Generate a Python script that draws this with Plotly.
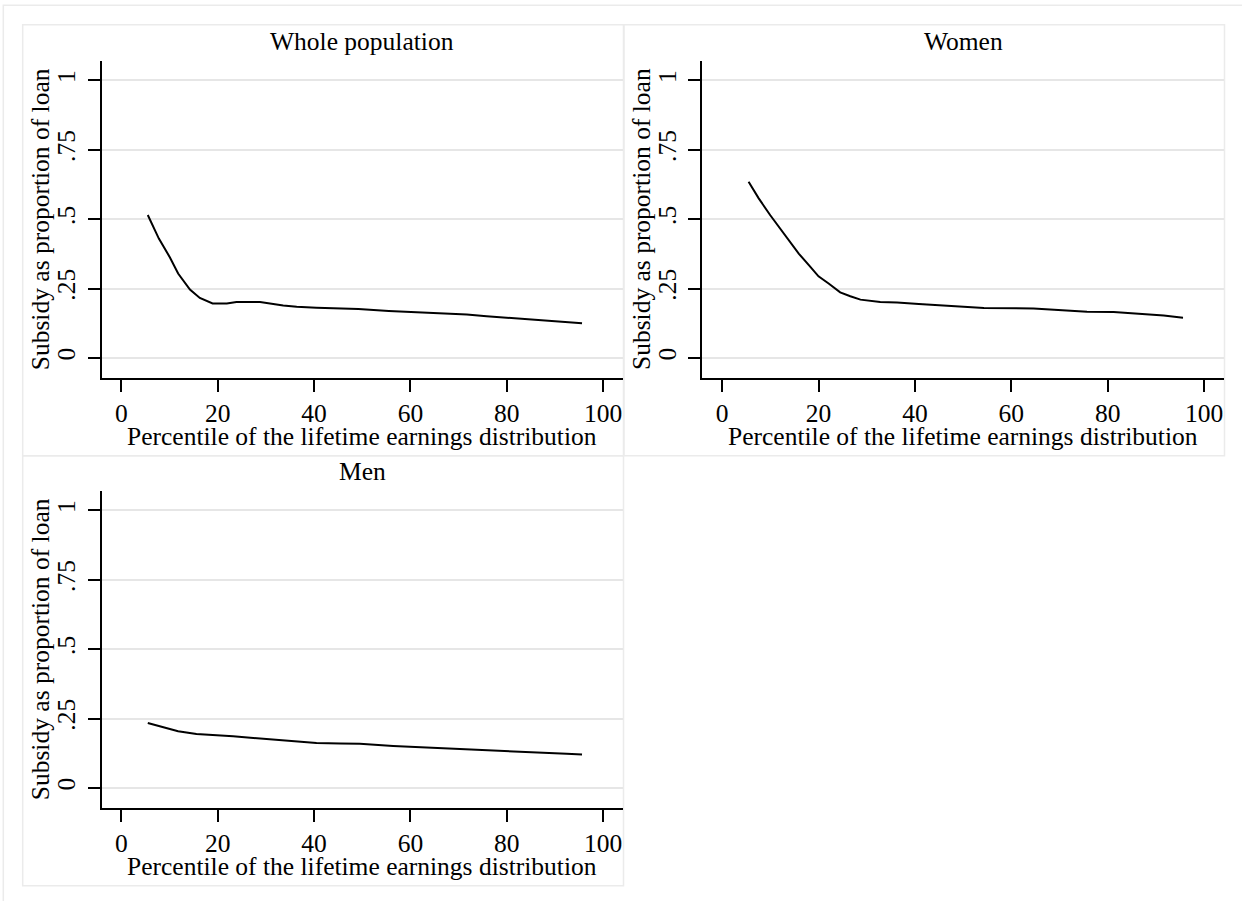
import plotly.graph_objects as go

# ---------------- data ----------------
whole_x = [5.5, 7.8, 10.1, 11.8, 14.25, 16.3, 18.95, 21.9, 23.9, 28.8, 33.6, 36.4,
           40.5, 49.2, 55.5, 61.3, 66.5, 71.7, 75.8, 80.0, 84.8, 88.9, 92.4, 95.6]
whole_y = [0.515, 0.430, 0.362, 0.304, 0.246, 0.216, 0.196, 0.196, 0.201, 0.201, 0.189, 0.184,
           0.181, 0.176, 0.169, 0.164, 0.161, 0.156, 0.150, 0.145, 0.139, 0.135, 0.130, 0.125]

women_x = [5.5, 7.6, 10.0, 12.1, 14.2, 15.9, 18.0, 20.0, 22.1, 24.5, 26.6, 28.7, 32.8,
           36.3, 40.8, 43.9, 49.4, 54.3, 64.6, 70.2, 75.7, 81.2, 86.8, 91.6, 95.6]
women_y = [0.635, 0.575, 0.514, 0.466, 0.418, 0.376, 0.334, 0.294, 0.268, 0.236, 0.222, 0.210, 0.201,
           0.200, 0.194, 0.191, 0.184, 0.180, 0.178, 0.172, 0.166, 0.165, 0.160, 0.153, 0.145]

men_x = [5.5, 11.8, 15.6, 19.1, 23.2, 27.4, 31.5, 37.1, 40.5, 45.4, 49.5, 56.4, 60.6,
         66.1, 71.7, 78.6, 84.8, 89.6, 92.4, 95.6]
men_y = [0.234, 0.204, 0.194, 0.191, 0.186, 0.180, 0.174, 0.167, 0.162, 0.160, 0.159, 0.151, 0.148,
         0.142, 0.138, 0.133, 0.130, 0.127, 0.123, 0.120]

panel_titles = ["Whole population", "Women", "Men"]
x_title = "Percentile of the lifetime earnings distribution"
y_title = "Subsidy as proportion of loan"
x_ticks = [0, 20, 40, 60, 80, 100]
y_ticks = [0, 0.25, 0.5, 0.75, 1]
y_ticktext = ["0", ".25", ".5", ".75", "1"]

# ---------------- layout helpers ----------------
W, H = 1242, 901
FONT = "Liberation Serif"
FS = 25.5


def PX(px):
    return px / W


def PY(py):
    return 1 - py / H


fig = go.Figure()
series = [(whole_x, whole_y), (women_x, women_y), (men_x, men_y)]
for i, (xs, ys) in enumerate(series):
    sfx = "" if i == 0 else str(i + 1)
    fig.add_trace(go.Scatter(x=xs, y=ys, mode="lines",
                             line=dict(color="black", width=2),
                             xaxis="x" + sfx, yaxis="y" + sfx,
                             showlegend=False, hoverinfo="x+y"))

# panel geometry in pixels: (plot left, plot right, plot top, plot bottom, box l, box r, box t, box b)
panels = [
    (101.5, 623.0, 61.0, 377.5, 22.7, 623.5, 24.7, 455.7),
    (702.3, 1224.0, 61.0, 377.5, 624.0, 1224.5, 24.7, 455.7),
    (101.5, 623.0, 491.0, 807.5, 22.7, 623.5, 455.7, 885.7),
]

x_common = dict(range=[-4.1, 104.1], tickvals=x_ticks, showgrid=False, zeroline=False,
                showline=True, linecolor="black", linewidth=2,
                ticks="outside", ticklen=12, tickwidth=2, tickcolor="black",
                tickfont=dict(family=FONT, size=FS, color="black"), fixedrange=True)
y_common = dict(range=[-0.0707, 1.07], tickvals=y_ticks, ticktext=y_ticktext,
                showgrid=True, gridcolor="#e6e6e6", gridwidth=1.5, zeroline=False,
                showline=True, linecolor="black", linewidth=2,
                ticks="outside", ticklen=12, tickwidth=2, tickcolor="black", tickangle=-90,
                ticklabelstandoff=2,
                tickfont=dict(family=FONT, size=FS, color="black"), fixedrange=True)

shapes = []
annotations = []
# outer frame (only top and left visible in the reference)
shapes.append(dict(type="rect", xref="paper", yref="paper",
                   x0=PX(3.3), x1=PX(1250), y0=PY(910), y1=PY(5.3),
                   line=dict(color="#ebebeb", width=1.5), fillcolor="rgba(0,0,0,0)", layer="below"))

for i, (pl, pr, pt, pb, bl, br, bt, bb) in enumerate(panels):
    sfx = "" if i == 0 else str(i + 1)
    fig.layout["xaxis" + sfx] = dict(x_common, domain=[PX(pl), PX(pr)], anchor="y" + sfx)
    fig.layout["yaxis" + sfx] = dict(y_common, domain=[PY(pb), PY(pt)], anchor="x" + sfx)
    shapes.append(dict(type="rect", xref="paper", yref="paper",
                       x0=PX(bl), x1=PX(br), y0=PY(bb), y1=PY(bt),
                       line=dict(color="#ebebeb", width=1.5), fillcolor="rgba(0,0,0,0)",
                       layer="below"))
    # panel title
    annotations.append(dict(text=panel_titles[i], xref="paper", yref="paper",
                            x=PX((pl + pr) / 2), y=PY(pt - 19.5), xanchor="center",
                            yanchor="middle", showarrow=False,
                            font=dict(family=FONT, size=FS, color="black")))
    # x-axis title
    annotations.append(dict(text=x_title, xref="paper", yref="paper",
                            x=PX((pl + pr) / 2), y=PY(pb + 58.5), xanchor="center",
                            yanchor="middle", showarrow=False,
                            font=dict(family=FONT, size=FS, color="black")))
    # y-axis title
    annotations.append(dict(text=y_title, xref="paper", yref="paper",
                            x=PX(pl - 61.5), y=PY((pt + pb) / 2), xanchor="center",
                            yanchor="middle", textangle=-90, showarrow=False,
                            font=dict(family=FONT, size=FS, color="black")))

fig.update_layout(width=W, height=H, margin=dict(l=0, r=0, t=0, b=0),
                  paper_bgcolor="white", plot_bgcolor="white",
                  shapes=shapes, annotations=annotations, showlegend=False,
                  font=dict(family=FONT, size=FS, color="black"))

# remove the browser's default 8px body margin so the figure sits at the page origin
fig.write_html("out.html", config={"displayModeBar": False},
               post_script="document.body.style.margin='0';document.body.style.overflow='hidden';")
